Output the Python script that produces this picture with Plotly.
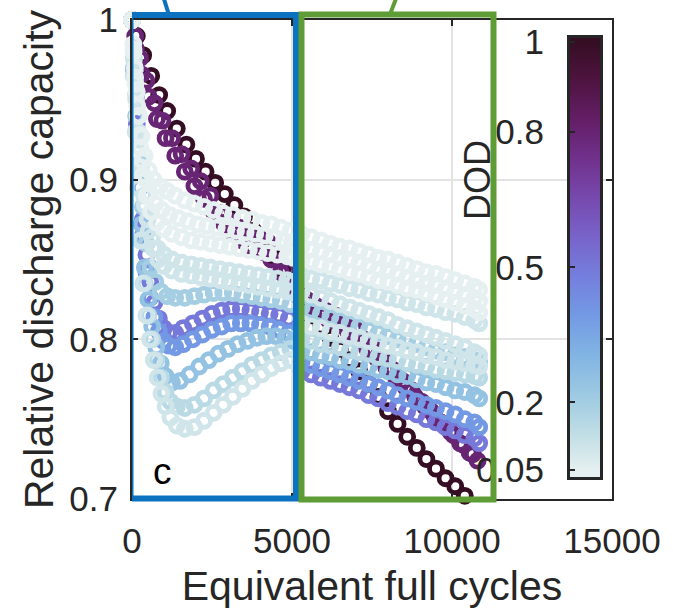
import plotly.graph_objects as go

# ---------------- data ----------------
DOD_TICKS = [0.05, 0.2, 0.5, 0.8, 1.0]
DOD_TICKTEXT = ["0.05", "0.2", "0.5", "0.8", "1"]
DOD_MIN, DOD_MAX = 0.05, 1.0

X_TICKS = [0, 5000, 10000, 15000]
X_TICKTEXT = ["0", "5000", "10000", "15000"]
Y_TICKS = [0.7, 0.8, 0.9, 1.0]
Y_TICKTEXT = ["0.7", "0.8", "0.9", "1"]

# right-box checkpoints shared by the low-DOD cells
X_RIGHT = [5300, 5600, 5900, 6200, 6500, 6800, 7100, 7400, 7700, 8000,
           8300, 8600, 8900, 9200, 9500, 9800, 10100, 10400, 10700, 10850]

# DOD 1.0
X_100 = [0, 150, 350, 600, 850, 1100, 1400, 1700, 2000, 2300, 2600, 2900, 3200,
         3500, 3800, 4100, 4400, 4700, 5000, 5300, 5600, 5900, 6200, 6500, 6800,
         7100, 7400, 7700, 8000, 8300, 8600, 8900, 9200, 9500, 9800, 10100, 10400, 10600]
Y_100 = [1.0, 0.99, 0.978, 0.965, 0.953, 0.943, 0.932, 0.922, 0.913, 0.905, 0.898, 0.891, 0.884,
         0.877, 0.868, 0.86, 0.852, 0.844, 0.835, 0.824, 0.815, 0.808, 0.801, 0.794, 0.787,
         0.78, 0.772, 0.764, 0.755, 0.747, 0.739, 0.732, 0.725, 0.719, 0.713, 0.708, 0.702, 0.697]

# DOD 0.8 (cell a)
X_80 = [0, 100, 250, 450, 700, 950, 1250, 1550, 1850, 2150, 2450, 2750, 3050, 3350, 3650,
        3950, 4250, 4550, 4850, 5150, 5450, 5750, 6050, 6350, 6650, 6950, 7250, 7550, 7850,
        8150, 8450, 8750, 9050, 9350, 9650, 9950, 10250, 10550, 10800]
Y_80 = [1.0, 0.99, 0.976, 0.962, 0.948, 0.937, 0.926, 0.916, 0.907, 0.899, 0.89, 0.879, 0.874,
        0.87, 0.867, 0.864, 0.861, 0.853, 0.843, 0.833, 0.825, 0.821, 0.818, 0.815, 0.812,
        0.807, 0.80, 0.794, 0.787, 0.781, 0.774, 0.768, 0.761, 0.755, 0.748, 0.742, 0.735,
        0.729, 0.724]

# DOD 0.8 (cell b)
X_80B = [0, 120, 300, 520, 780, 1050, 1350, 1650, 1950, 2250, 2550, 2850, 3150, 3450, 3750,
         4050, 4350, 4650, 4950, 5250, 5550, 5850, 6150, 6450, 6750, 7050, 7350, 7650, 7950,
         8250, 8550, 8850, 9150, 9450, 9750, 10050, 10350, 10650]
Y_80B = [1.0, 0.982, 0.966, 0.952, 0.938, 0.926, 0.915, 0.905, 0.896, 0.888, 0.88, 0.873,
         0.867, 0.862, 0.858, 0.855, 0.85, 0.842, 0.833, 0.826, 0.82, 0.816, 0.812, 0.809,
         0.805, 0.80, 0.794, 0.788, 0.782, 0.776, 0.77, 0.764, 0.758, 0.752, 0.746, 0.74,
         0.734, 0.728]

# DOD 0.5
X_50 = [0, 70, 150, 240, 340, 450, 570, 700, 840, 990, 1150, 1350, 1600, 1900, 2200, 2500,
        2800, 3100, 3400, 3700, 4000, 4300, 4600, 4900]
Y_50 = [1.0, 0.968, 0.935, 0.903, 0.875, 0.853, 0.836, 0.823, 0.813, 0.807, 0.804, 0.804,
        0.807, 0.81, 0.813, 0.816, 0.818, 0.819, 0.819, 0.818, 0.817, 0.816, 0.815, 0.813]
Y_50_R = [0.78, 0.778, 0.776, 0.774, 0.772, 0.77, 0.768, 0.765, 0.763, 0.76, 0.758, 0.755,
          0.753, 0.75, 0.748, 0.745, 0.743, 0.74, 0.738, 0.735]

# DOD 0.4
X_40 = [0, 70, 150, 240, 340, 450, 570, 700, 840, 990, 1150, 1350, 1600, 1900, 2200, 2500,
        2800, 3100, 3400, 3700, 4000, 4300, 4600, 4900]
Y_40 = [1.0, 0.965, 0.93, 0.895, 0.865, 0.842, 0.826, 0.814, 0.805, 0.799, 0.796, 0.795,
        0.797, 0.8, 0.803, 0.806, 0.808, 0.81, 0.81, 0.81, 0.809, 0.808, 0.806, 0.804]
Y_40_R = [0.786, 0.784, 0.782, 0.78, 0.778, 0.776, 0.774, 0.772, 0.77, 0.768, 0.765, 0.763,
          0.761, 0.759, 0.757, 0.755, 0.753, 0.75, 0.748, 0.745]

# DOD 0.25
X_25 = [0, 60, 130, 210, 300, 400, 510, 630, 760, 900, 1050, 1250, 1500, 1800, 2100, 2400,
        2700, 3000, 3300, 3600, 3900, 4200, 4500, 4800, 5050]
Y_25 = [1.0, 0.97, 0.94, 0.905, 0.872, 0.845, 0.825, 0.808, 0.795, 0.785, 0.777, 0.773,
        0.774, 0.778, 0.783, 0.787, 0.791, 0.794, 0.797, 0.799, 0.801, 0.802, 0.802, 0.801, 0.799]
Y_25_R = [0.793, 0.792, 0.79, 0.789, 0.787, 0.786, 0.784, 0.783, 0.781, 0.78, 0.778, 0.777,
          0.775, 0.773, 0.772, 0.77, 0.768, 0.767, 0.765, 0.763]

# DOD 0.2
X_20 = [0, 70, 150, 240, 340, 450, 580, 730, 900, 1100, 1350, 1650, 1950, 2250, 2550, 2850,
        3150, 3450, 3750, 4050, 4350, 4650, 4950]
Y_20 = [1.0, 0.97, 0.94, 0.91, 0.883, 0.86, 0.845, 0.836, 0.83, 0.827, 0.826, 0.826, 0.827,
        0.828, 0.829, 0.829, 0.829, 0.828, 0.827, 0.826, 0.825, 0.824, 0.822]
Y_20_R = [0.82, 0.818, 0.816, 0.814, 0.812, 0.81, 0.808, 0.806, 0.804, 0.802, 0.8, 0.799,
          0.797, 0.795, 0.793, 0.792, 0.79, 0.789, 0.787, 0.786]

# DOD 0.15
X_15 = [0, 60, 130, 210, 300, 400, 510, 630, 760, 900, 1050, 1200, 1400, 1650, 1950, 2250,
        2550, 2850, 3150, 3450, 3750, 4050, 4350, 4650, 4950]
Y_15 = [1.0, 0.965, 0.93, 0.895, 0.862, 0.835, 0.815, 0.8, 0.787, 0.776, 0.767, 0.761, 0.758,
        0.757, 0.759, 0.763, 0.768, 0.772, 0.776, 0.78, 0.784, 0.787, 0.79, 0.792, 0.794]
Y_15_R = [0.8, 0.799, 0.797, 0.796, 0.795, 0.793, 0.792, 0.791, 0.789, 0.788, 0.787, 0.785,
          0.784, 0.783, 0.781, 0.78, 0.779, 0.778, 0.777, 0.776]

# DOD 0.1 (cell b)
X_10B = [0, 50, 110, 180, 260, 350, 450, 560, 680, 800, 920, 1050, 1200, 1400, 1650, 1950,
         2250, 2550, 2850, 3150, 3450, 3750, 4050, 4350, 4650, 4950]
Y_10B = [1.0, 0.965, 0.93, 0.895, 0.862, 0.835, 0.815, 0.8, 0.787, 0.776, 0.766, 0.758,
         0.751, 0.746, 0.744, 0.745, 0.749, 0.754, 0.759, 0.764, 0.769, 0.774, 0.778, 0.782,
         0.785, 0.787]
Y_10B_R = [0.81, 0.808, 0.807, 0.805, 0.804, 0.802, 0.801, 0.799, 0.798, 0.796, 0.795, 0.793,
           0.792, 0.79, 0.789, 0.787, 0.786, 0.785, 0.784, 0.783]

# DOD 0.1 (cell a)
X_10A = [0, 60, 130, 210, 300, 400, 520, 660, 820, 1000, 1250, 1550, 1850, 2150, 2450, 2750,
         3050, 3350, 3650, 3950, 4250, 4550, 4850, 5050]
Y_10A = [1.0, 0.975, 0.95, 0.925, 0.903, 0.884, 0.868, 0.857, 0.85, 0.846, 0.843, 0.841,
         0.84, 0.839, 0.838, 0.837, 0.836, 0.835, 0.834, 0.833, 0.832, 0.831, 0.83, 0.829]
Y_10A_R = [0.83, 0.828, 0.826, 0.824, 0.822, 0.82, 0.818, 0.816, 0.814, 0.812, 0.809, 0.807,
           0.805, 0.803, 0.801, 0.799, 0.797, 0.795, 0.792, 0.79]

# DOD 0.1 (cell c)
X_10C = [0, 55, 120, 195, 280, 375, 490, 630, 800, 1000, 1250, 1550, 1850, 2150, 2450, 2750,
         3050, 3350, 3650, 3950, 4250, 4550, 4850, 5050]
Y_10C = [1.0, 0.977, 0.953, 0.93, 0.908, 0.89, 0.875, 0.864, 0.857, 0.853, 0.85, 0.848,
         0.847, 0.846, 0.845, 0.844, 0.843, 0.842, 0.841, 0.84, 0.839, 0.838, 0.837, 0.836]
Y_10C_R = [0.84, 0.838, 0.837, 0.835, 0.834, 0.832, 0.831, 0.829, 0.828, 0.826, 0.825, 0.823,
           0.822, 0.82, 0.819, 0.817, 0.816, 0.814, 0.812, 0.81]

# DOD 0.05 (cell b)
X_05B = [0, 50, 110, 180, 260, 350, 460, 600, 780, 1000, 1250, 1550, 1850, 2150, 2450, 2750,
         3050, 3350, 3650, 3950, 4250, 4550, 4850, 5050]
Y_05B = [1.0, 0.98, 0.96, 0.94, 0.92, 0.903, 0.89, 0.88, 0.873, 0.869, 0.866, 0.864, 0.862,
         0.861, 0.86, 0.859, 0.858, 0.857, 0.856, 0.855, 0.854, 0.853, 0.852, 0.851]
Y_05B_R = [0.85, 0.849, 0.847, 0.846, 0.844, 0.842, 0.841, 0.839, 0.837, 0.836, 0.834, 0.832,
           0.831, 0.829, 0.827, 0.825, 0.823, 0.821, 0.819, 0.817]

# DOD 0.05 (cell c)
X_05C = [0, 45, 100, 165, 240, 325, 430, 560, 730, 940, 1180, 1450, 1750, 2050, 2350, 2650,
         2950, 3250, 3550, 3850, 4150, 4450, 4750, 5000]
Y_05C = [1.0, 0.982, 0.964, 0.946, 0.928, 0.912, 0.9, 0.891, 0.885, 0.881, 0.878, 0.876,
         0.874, 0.872, 0.871, 0.87, 0.869, 0.868, 0.867, 0.866, 0.865, 0.864, 0.862, 0.861]
Y_05C_R = [0.858, 0.856, 0.855, 0.853, 0.851, 0.85, 0.848, 0.846, 0.844, 0.843, 0.841, 0.839,
           0.837, 0.835, 0.834, 0.832, 0.83, 0.828, 0.826, 0.824]

# DOD 0.05 (cell a)
X_05A = [0, 40, 90, 150, 220, 300, 400, 520, 680, 880, 1100, 1350, 1650, 1950, 2250, 2550,
         2850, 3150, 3450, 3750, 4050, 4350, 4650, 4950]
Y_05A = [1.0, 0.985, 0.97, 0.955, 0.94, 0.927, 0.915, 0.906, 0.9, 0.896, 0.893, 0.89, 0.887,
         0.885, 0.883, 0.881, 0.879, 0.878, 0.876, 0.875, 0.873, 0.872, 0.87, 0.868]
Y_05A_R = [0.866, 0.864, 0.862, 0.86, 0.858, 0.857, 0.855, 0.853, 0.851, 0.85, 0.848, 0.846,
           0.844, 0.842, 0.841, 0.839, 0.837, 0.835, 0.833, 0.831]

# drawing order: high DOD first, low DOD on top
SERIES = [
    (1.0, X_100, Y_100),
    (0.8, X_80B, Y_80B),
    (0.8, X_80, Y_80),
    (0.5, X_50 + X_RIGHT, Y_50 + Y_50_R),
    (0.4, X_40 + X_RIGHT, Y_40 + Y_40_R),
    (0.25, X_25 + X_RIGHT, Y_25 + Y_25_R),
    (0.2, X_20 + X_RIGHT, Y_20 + Y_20_R),
    (0.15, X_15 + X_RIGHT, Y_15 + Y_15_R),
    (0.1, X_10B + X_RIGHT, Y_10B + Y_10B_R),
    (0.1, X_10A + X_RIGHT, Y_10A + Y_10A_R),
    (0.1, X_10C + X_RIGHT, Y_10C + Y_10C_R),
    (0.05, X_05B + X_RIGHT, Y_05B + Y_05B_R),
    (0.05, X_05C + X_RIGHT, Y_05C + Y_05C_R),
    (0.05, X_05A + X_RIGHT, Y_05A + Y_05A_R),
]

# ---------------- figure ----------------
FONT = "Liberation Sans, Arial, sans-serif"
TXT = "#262626"
fig = go.Figure()

for dod, xs, ys in SERIES:
    fig.add_trace(go.Scatter(
        x=xs, y=ys, mode="markers", cliponaxis=False, showlegend=False,
        marker=dict(symbol="circle-open", size=13, color=[dod] * len(xs),
                    colorscale="dense", cmin=DOD_MIN, cmax=DOD_MAX,
                    showscale=False, line=dict(width=4.8)),
    ))

# colour bar drawn as a heatmap on its own small axes
fig.add_trace(go.Heatmap(
    x=[0, 1], y=[DOD_MIN, DOD_MAX], z=[[DOD_MIN, DOD_MIN], [DOD_MAX, DOD_MAX]],
    colorscale="dense", zmin=DOD_MIN, zmax=DOD_MAX, zsmooth="best",
    showscale=False, xaxis="x2", yaxis="y2", hoverinfo="skip",
))

fig.update_layout(
    width=673, height=616,
    margin=dict(l=132, r=61, t=20, b=117),
    paper_bgcolor="white", plot_bgcolor="white",
    font=dict(family=FONT, color=TXT),
    xaxis=dict(
        range=[0, 15000], tickvals=X_TICKS, ticktext=X_TICKTEXT, automargin=False,
        tickfont=dict(size=35, color=TXT), ticks="inside", ticklen=6, tickwidth=1.5,
        tickcolor=TXT, showline=True, mirror="ticks", linecolor=TXT, linewidth=2,
        showgrid=True, gridcolor="#E3E3E3", gridwidth=1.5, zeroline=False,
        ticklabelstandoff=10,
        title=dict(text="Equivalent full cycles", font=dict(size=41, color=TXT), standoff=12),
    ),
    yaxis=dict(
        range=[0.7, 1.0], tickvals=Y_TICKS, ticktext=Y_TICKTEXT, automargin=False,
        tickfont=dict(size=35, color=TXT), ticks="inside", ticklen=6, tickwidth=1.5,
        tickcolor=TXT, showline=True, mirror="ticks", linecolor=TXT, linewidth=2,
        showgrid=True, gridcolor="#E3E3E3", gridwidth=1.5, zeroline=False,
        ticklabelstandoff=5,
        title=dict(text="Relative discharge capacity", font=dict(size=41, color=TXT), standoff=3),
    ),
    xaxis2=dict(
        domain=[0.9125, 0.975], range=[0, 1], anchor="y2", automargin=False,
        showticklabels=False, ticks="", showgrid=False, zeroline=False,
        showline=True, mirror=True, linecolor=TXT, linewidth=3,
    ),
    yaxis2=dict(
        domain=[0.0459, 0.9624], range=[0.0345, 1.0089], anchor="x2", side="left",
        automargin=False,
        tickvals=DOD_TICKS, ticktext=DOD_TICKTEXT, tickfont=dict(size=35, color=TXT),
        ticks="inside", ticklen=5, tickwidth=1.5, tickcolor=TXT,
        showgrid=False, zeroline=False, showline=True, mirror=True,
        linecolor=TXT, linewidth=3, ticklabelstandoff=16,
    ),
    shapes=[
        # white strip behind the colour bar (hides grid there)
        dict(type="rect", xref="x", yref="paper", x0=13690, x1=15000, y0=0, y1=1,
             fillcolor="white", line=dict(width=0), layer="between"),
        # blue zoom box and its leader
        dict(type="rect", xref="x", yref="paper", x0=-47, x1=5125, y0=0.001, y1=1.0104,
             line=dict(color="#0A72BF", width=6)),
        dict(type="line", xref="x", yref="paper", x0=969, x1=1156, y0=1.05, y1=1.0104,
             line=dict(color="#0A72BF", width=4)),
        # green zoom box and its leader
        dict(type="rect", xref="x", yref="paper", x0=5297, x1=11297, y0=-0.001, y1=1.0115,
             line=dict(color="#5E9C35", width=6)),
        dict(type="line", xref="x", yref="paper", x0=8281, x1=8062, y0=1.05, y1=1.0115,
             line=dict(color="#5E9C35", width=4)),
    ],
    annotations=[
        dict(text="c", xref="x", yref="paper", x=940, y=0.058, showarrow=False,
             xanchor="center", yanchor="middle",
             font=dict(size=37, color="black", family=FONT)),
        dict(text="DOD", xref="x", yref="paper", x=10810, y=0.666, showarrow=False,
             xanchor="center", yanchor="middle",
             textangle=-90, font=dict(size=36, color=TXT, family=FONT)),
    ],
)

fig.write_html("out.html")
